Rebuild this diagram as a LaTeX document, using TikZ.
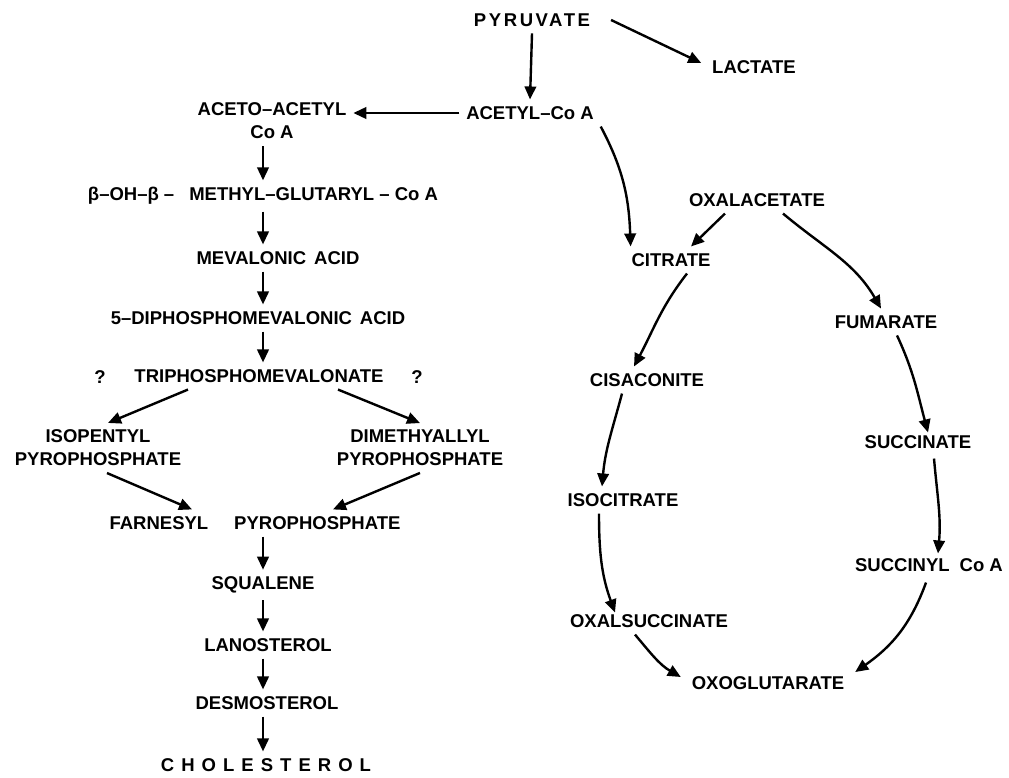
\documentclass[tikz,border=0pt]{standalone}
\usepackage{fontspec}
\setmainfont{Liberation Sans}
\usetikzlibrary{calc}
\usetikzlibrary{arrows.meta}
\tikzset{cpd/.style={inner sep=0pt,outer sep=7pt,align=center,font=\bfseries\fontsize{18.5}{23}\selectfont}}
\tikzset{rxn/.style={-{Triangle[length=13pt,width=11.5pt]},line width=2.4pt}}

\begin{document}
\begin{tikzpicture}[x=1pt,y=1pt]
\useasboundingbox (0,0) rectangle (1009,-778);
  % top
  \node[cpd] (pyr) at (532,-20) {\addfontfeature{LetterSpace=14}PYRUVATE};
  \node[cpd] (lac) at (754,-67) {LACTATE};
  \node[cpd] (acoa) at (530,-113) {ACETYL–Co A};
  % sterol branch
  \node[cpd] (aacoa) at (272,-121) {ACETO–ACETYL\\Co A};
  \node[cpd] (hmg) at (263,-196) {β–OH–β –\hspace{15pt}METHYL–GLUTARYL – Co A};
  \node[cpd] (mev) at (278,-258) {MEVALONIC\hspace{8pt}ACID};
  \node[cpd] (dpm) at (258,-318) {5–DIPHOSPHOMEVALONIC\hspace{8pt}ACID};
  \node[cpd] (trip) at (259,-376) {TRIPHOSPHOMEVALONATE};
  \node[cpd] (qa) at (100,-377) {?};
  \node[cpd] (qb) at (417,-377) {?};
  \node[cpd] (ipp) at (98,-448) {ISOPENTYL\\PYROPHOSPHATE};
  \node[cpd] (dmapp) at (420,-448) {DIMETHYALLYL\\PYROPHOSPHATE};
  \node[cpd] (farn) at (255,-523) {FARNESYL\hspace{26pt}PYROPHOSPHATE};
  \node[cpd] (sq) at (263,-585) {SQUALENE};
  \node[cpd] (lan) at (268,-645) {LANOSTEROL};
  \node[cpd] (des) at (267,-703) {DESMOSTEROL};
  \node[cpd] (chol) at (266,-765) {\addfontfeature{LetterSpace=38}CHOLESTEROL};
  \coordinate (spine) at (263,0);
  % citric acid cycle
  \node[cpd] (oaa) at (757,-200) {OXALACETATE};
  \node[cpd] (cit) at (671,-260) {CITRATE};
  \node[cpd] (fum) at (886,-322) {FUMARATE};
  \node[cpd] (cis) at (647,-380) {CISACONITE};
  \node[cpd] (suc) at (918,-442) {SUCCINATE};
  \node[cpd] (iso) at (623,-500) {ISOCITRATE};
  \node[cpd] (sucoa) at (929,-565) {SUCCINYL\hspace{10pt}Co A};
  \node[cpd] (oxs) at (649,-621) {OXALSUCCINATE};
  \node[cpd] (oxg) at (768,-683) {OXOGLUTARATE};

  \draw[rxn] (pyr.south) -- (acoa.north);
  \draw[rxn] ($(pyr.east)+(14,0)$) -- ($(lac.west)+(-4,4)$);
  \draw[rxn] (acoa.west) -- (acoa.west -| aacoa.east);
  \foreach \a/\b in {aacoa/hmg,hmg/mev,mev/dpm,dpm/trip,farn/sq,sq/lan,lan/des,des/chol}
    \draw[rxn] (\a.south -| spine) -- (\b.north -| spine);
  \draw[rxn] ($(trip.south)+(-71,0)$) -- ($(ipp.north)+(10,0)$);
  \draw[rxn] ($(trip.south)+(79,0)$) -- (dmapp.north);
  \draw[rxn] ($(ipp.south)+(9,0)$) -- ($(farn.north)+(-63,0)$);
  \draw[rxn] (dmapp.south) -- ($(farn.north)+(78,0)$);

  \draw[rxn] (acoa.south east) to[out=-62,in=92] ($(cit.north west)+(6,0)$);
  \draw[rxn] ($(oaa.south)+(-32,0)$) -- ($(cit.north)+(20,0)$);
  \draw[rxn] ($(oaa.south)+(26,0)$) to[out=-40,in=120] ($(fum.north)+(-5,0)$);
  \draw[rxn] ($(cit.south)+(16,0)$) to[out=-128,in=62] ($(cis.north)+(-13,0)$);
  \draw[rxn] ($(cis.south)+(-25,0)$) to[out=-105,in=85] ($(iso.north)+(-21,0)$);
  \draw[rxn] ($(iso.south)+(-24,0)$) to[out=-90,in=110] ($(oxs.north)+(-34,-5)$);
  \draw[rxn] ($(oxs.south)+(-14,0)$) to[out=-50,in=150] ($(oxg.west)+(-4,6)$);
  \draw[rxn] ($(fum.south)+(11,0)$) to[out=-65,in=105] ($(suc.north)+(10,-4)$);
  \draw[rxn] ($(suc.south)+(16,-3)$) to[out=-85,in=85] ($(sucoa.north)+(9,-2)$);
  \draw[rxn] ($(sucoa.south)+(-3,-4)$) to[out=-110,in=35] ($(oxg.east)+(4,11)$);
\end{tikzpicture}
\end{document}
